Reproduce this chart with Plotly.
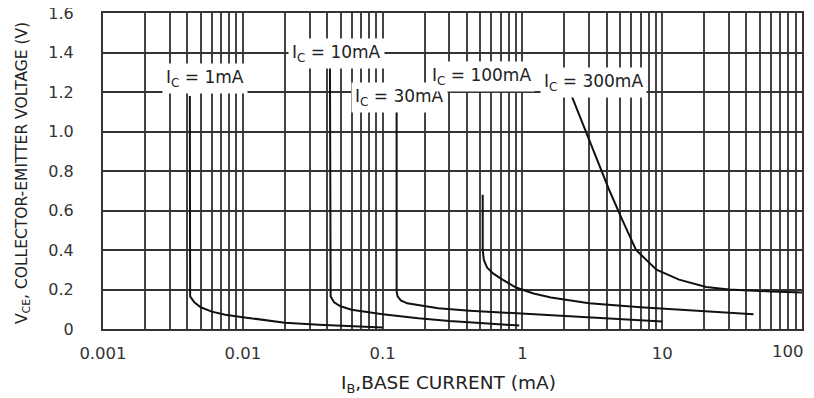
import math
import plotly.graph_objects as go

# ---- data ----
ib_1mA = [0.00418, 0.00418, 0.0042, 0.0045, 0.005, 0.0060, 0.0075, 0.010, 0.014, 0.020, 0.035, 0.060, 0.10]
vce_1mA = [1.18, 0.20, 0.165, 0.135, 0.11, 0.088, 0.072, 0.060, 0.045, 0.032, 0.022, 0.014, 0.008]

ib_10mA = [0.042, 0.042, 0.0425, 0.045, 0.050, 0.060, 0.080, 0.10, 0.18, 0.30, 0.50, 0.95]
vce_10mA = [1.35, 0.19, 0.165, 0.135, 0.115, 0.098, 0.085, 0.075, 0.054, 0.040, 0.030, 0.018]

ib_30mA = [0.126, 0.126, 0.128, 0.135, 0.15, 0.18, 0.25, 0.42, 0.90, 1.6, 3.0, 6.0, 10.0]
vce_30mA = [1.10, 0.19, 0.165, 0.145, 0.13, 0.12, 0.105, 0.093, 0.080, 0.070, 0.058, 0.046, 0.038]

ib_100mA = [0.52, 0.52, 0.53, 0.56, 0.62, 0.72, 0.90, 1.2, 1.6, 3.0, 7.0, 15.0, 45.0]
vce_100mA = [0.68, 0.40, 0.35, 0.31, 0.28, 0.25, 0.21, 0.18, 0.16, 0.13, 0.11, 0.095, 0.075]

ib_300mA = [2.25, 4.2, 5.2, 6.5, 9.1, 13.2, 20.6, 30.0, 60.0, 100.0]
vce_300mA = [1.18, 0.70, 0.55, 0.40, 0.30, 0.25, 0.213, 0.20, 0.19, 0.185]

curve_labels = ["I<sub>C</sub> = 1mA", "I<sub>C</sub> = 10mA", "I<sub>C</sub> = 30mA",
                "I<sub>C</sub> = 100mA", "I<sub>C</sub> = 300mA"]

x_tickvals = [m * 10.0 ** e for e in range(-3, 2) for m in range(1, 10)] + [100.0]
x_ticktext = [("0.001", "0.01", "0.1", "1", "10")[e + 3] if m == 1 else ""
              for e in range(-3, 2) for m in range(1, 10)] + [""]
x_last_label = "100"   # drawn separately so it stays inside the page
y_tickvals = [0, 0.2, 0.4, 0.6, 0.8, 1.0, 1.2, 1.4, 1.6]
y_ticktext = ["0", "0.2", "0.4", "0.6", "0.8", "1.0", "1.2", "1.4", "1.6"]

x_title = "I<sub>B</sub>,BASE CURRENT (mA)"
y_title = "V<sub>CE</sub>, COLLECTOR-EMITTER VOLTAGE (V)"

# ---- figure ----
FONT = "DejaVu Sans, Liberation Sans, Arial, sans-serif"
# page body has an 8px margin, so the figure is drawn 8px in from the corner
W, H = 806, 390
L, T, R, B = 95, 5, 12, 69
PW, PH = W - L - R, H - T - B

fig = go.Figure()
series = [(ib_1mA, vce_1mA), (ib_10mA, vce_10mA), (ib_30mA, vce_30mA),
          (ib_100mA, vce_100mA), (ib_300mA, vce_300mA)]
for (xs, ys), name in zip(series, curve_labels):
    fig.add_trace(go.Scatter(x=xs, y=ys, mode="lines", name=name,
                             line=dict(color="#111111", width=2),
                             showlegend=False, hoverinfo="skip"))

# label anchor points (IB in mA, VCE in V)
label_pos = [(0.0054, 1.266), (0.0466, 1.397), (0.132, 1.17), (0.506, 1.276), (3.21, 1.246)]
for (lx, ly), txt in zip(label_pos, curve_labels):
    fig.add_annotation(x=math.log10(lx), y=ly, xref="x", yref="y", text=txt,
                       showarrow=False, bgcolor="white", borderpad=3,
                       font=dict(family=FONT, size=17, color="#222222"))

# last x tick label, right-aligned near the edge like the reference
fig.add_annotation(x=math.log10(x_tickvals[-1]), y=0, xref="x", yref="paper",
                   text=x_last_label, showarrow=False, xanchor="right", yanchor="top",
                   xshift=3, yshift=-12, borderpad=0,
                   font=dict(family=FONT, size=16.5, color="#333333"))

# titles: positions given in page pixels, converted to paper coords
def px_to_paper(px, py):
    return ((px - 8 - L) / PW, (H - B - (py - 8)) / PH)

xt = px_to_paper(448, 384)
fig.add_annotation(x=xt[0], y=xt[1], xref="paper", yref="paper",
                   text=x_title, showarrow=False, xanchor="center", yanchor="middle",
                   font=dict(family=FONT, size=18.5, color="#222222"))
yt = px_to_paper(23, 173)
fig.add_annotation(x=yt[0], y=yt[1], xref="paper", yref="paper",
                   text=y_title, showarrow=False, textangle=-90,
                   xanchor="center", yanchor="middle",
                   font=dict(family=FONT, size=15.5, color="#222222"))

fig.update_xaxes(type="log", range=[-3, 2], tickmode="array",
                 tickvals=x_tickvals, ticktext=x_ticktext,
                 showgrid=True, gridcolor="#444444", gridwidth=1.6,
                 showline=True, linecolor="#333333", linewidth=2, mirror=True,
                 ticks="", ticklabelstandoff=8, zeroline=False, automargin=False,
                 ticklabeloverflow="allow",
                 tickfont=dict(family=FONT, size=16.5, color="#333333"))
fig.update_yaxes(range=[0, 1.6], tickmode="array",
                 tickvals=y_tickvals, ticktext=y_ticktext,
                 showgrid=True, gridcolor="#333333", gridwidth=1.6,
                 showline=True, linecolor="#333333", linewidth=2, mirror=True,
                 ticks="", ticklabelstandoff=24, zeroline=False, automargin=False,
                 ticklabeloverflow="allow",
                 tickfont=dict(family=FONT, size=16, color="#333333"))

fig.update_layout(width=W, height=H,
                  margin=dict(l=L, r=R, t=T, b=B, autoexpand=False),
                  paper_bgcolor="white", plot_bgcolor="white")

fig.write_html("out.html")
